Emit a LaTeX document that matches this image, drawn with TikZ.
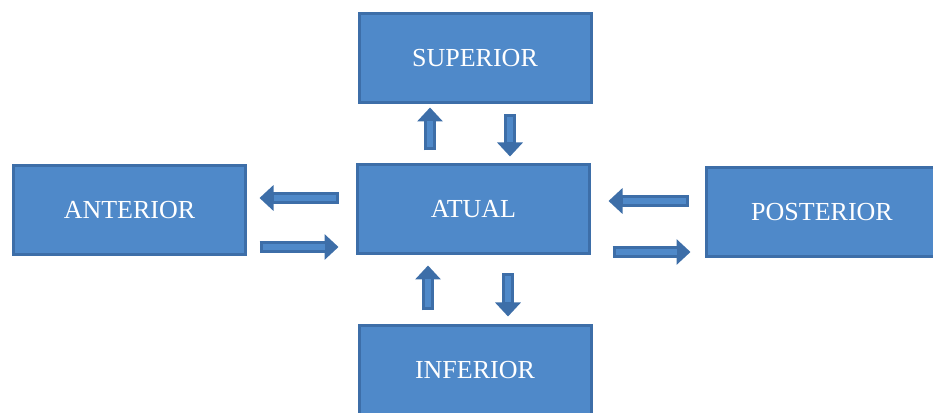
\documentclass[tikz,border=0pt]{standalone}
\usepackage{fontspec}
\setmainfont{Liberation Serif}
\usetikzlibrary{arrows.meta}
\definecolor{boxfill}{HTML}{4F89C9}
\definecolor{boxline}{HTML}{3D6EA8}
\tikzset{
  dirbox/.style={rectangle, draw=boxline, fill=boxfill, line width=3pt,
    minimum width=232pt, minimum height=89pt, text=white,
    font=\fontsize{26}{30}\selectfont},
  fatarrow/.style={draw=boxline, line width=12pt,
    -{Triangle[width=25pt,length=14pt]},
    postaction={draw=boxfill, line width=6pt, shorten >=14pt, shorten <=3pt, -}}
}
\begin{document}
\begin{tikzpicture}[x=1pt,y=1pt]
\useasboundingbox (0,0) rectangle (933,412);
\node[dirbox] (superior) at (475,354) {SUPERIOR};
\node[dirbox] (atual) at (473.5,202.5) {ATUAL};
\node[dirbox] (anterior) at (129.5,201.5) {ANTERIOR};
\node[dirbox] (posterior) at (822,199.5) {POSTERIOR};
\node[dirbox] (inferior) at (475,42) {INFERIOR};

% atual <-> superior
\draw[fatarrow] ([shift={(-43.5pt,13pt)}]atual.north) -- ([shift={(-45pt,-3.5pt)}]superior.south);
\draw[fatarrow] ([shift={(35pt,-10.5pt)}]superior.south) -- ([shift={(36.5pt,7pt)}]atual.north);

% atual <-> anterior
\draw[fatarrow] ([shift={(-17.5pt,11.5pt)}]atual.west) -- ([shift={(12.5pt,12.5pt)}]anterior.east);
\draw[fatarrow] ([shift={(12.5pt,-36.5pt)}]anterior.east) -- ([shift={(-17.5pt,-37.5pt)}]atual.west);

% atual <-> posterior
\draw[fatarrow] ([shift={(-16pt,11.5pt)}]posterior.west) -- ([shift={(17.5pt,8.5pt)}]atual.east);
\draw[fatarrow] ([shift={(21.5pt,-42.5pt)}]atual.east) -- ([shift={(-14pt,-39.5pt)}]posterior.west);

% atual <-> inferior
\draw[fatarrow] ([shift={(-47pt,13.5pt)}]inferior.north) -- ([shift={(-45.5pt,-10pt)}]atual.south);
\draw[fatarrow] ([shift={(34.5pt,-18pt)}]atual.south) -- ([shift={(33pt,7.5pt)}]inferior.north);
\end{tikzpicture}
\end{document}
